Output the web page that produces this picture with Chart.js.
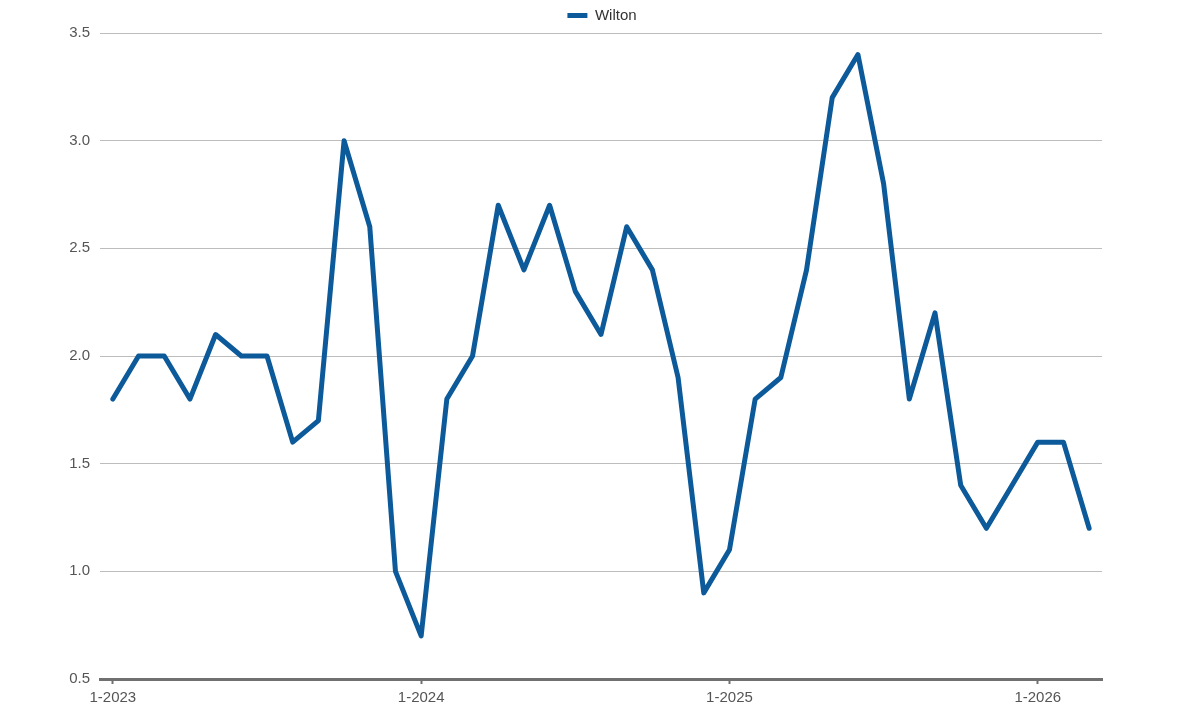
<!DOCTYPE html>
<html>
<head>
<meta charset="utf-8">
<script src="https://cdn.jsdelivr.net/npm/chart.js@4/dist/chart.umd.min.js"></script>
<style>
  html, body { margin: 0; padding: 0; background: #fff; }
  #wrap { width: 1204px; height: 712px; }
</style>
</head>
<body>
<div id="wrap"><canvas id="chart"></canvas></div>
<script>
// Months from 1-2023 to 3-2026
const months = [];
for (let y = 2023; y <= 2026; y++) {
    for (let m = 1; m <= 12; m++) {
        if (y === 2026 && m > 3) break;
        months.push(m + '-' + y);
    }
}

const seriesName = 'Wilton';
const wiltonValues = [
    1.8, 2.0, 2.0, 1.8, 2.1, 2.0, 2.0, 1.6, 1.7, 3.0, 2.6, 1.0,
    0.7, 1.8, 2.0, 2.7, 2.4, 2.7, 2.3, 2.1, 2.6, 2.4, 1.9, 0.9,
    1.1, 1.8, 1.9, 2.4, 3.2, 3.4, 2.8, 1.8, 2.2, 1.4, 1.2, 1.4,
    1.6, 1.6, 1.2
];
const yTicks = [0.5, 1.0, 1.5, 2.0, 2.5, 3.0, 3.5];

const lineColor = '#0d5a9b';
const fontFamily = 'Liberation Sans, Arial, sans-serif';

const ctx = document.getElementById('chart').getContext('2d');
new Chart(ctx, {
    type: 'line',
    data: {
        labels: months,
        datasets: [{
            label: seriesName,
            data: wiltonValues,
            borderColor: lineColor,
            backgroundColor: lineColor,
            borderWidth: 5,
            borderJoinStyle: 'round',
            borderCapStyle: 'round',
            pointRadius: 0,
            pointStyle: 'line',
            tension: 0,
            fill: false
        }]
    },
    options: {
        responsive: true,
        maintainAspectRatio: false,
        animation: false,
        layout: {
            padding: { left: 0, right: 0, top: 0, bottom: 0 }
        },
        plugins: {
            legend: {
                position: 'top',
                labels: {
                    usePointStyle: true,
                    pointStyleWidth: 20,
                    color: '#333',
                    font: { family: fontFamily, size: 15 },
                    padding: 8
                }
            },
            tooltip: { enabled: false }
        },
        scales: {
            x: {
                offset: true,
                grid: {
                    offset: false,
                    drawOnChartArea: false,
                    drawTicks: true,
                    tickLength: 5,
                    tickWidth: 2,
                    tickColor: '#707070'
                },
                border: { display: true, color: '#707070', width: 3 },
                ticks: {
                    autoSkip: false,
                    maxRotation: 0,
                    padding: 5,
                    color: '#555',
                    font: { family: fontFamily, size: 15 },
                    callback: function (value, index) {
                        return index % 12 === 0 ? months[index] : null;
                    }
                }
            },
            y: {
                min: 0.5,
                max: 3.5,
                afterBuildTicks: function (axis) {
                    axis.ticks = yTicks.map(v => ({ value: v }));
                },
                afterFit: function (axis) {
                    axis.width = 100;
                },
                grid: {
                    color: '#bdbdbd',
                    lineWidth: 1,
                    drawTicks: false
                },
                border: { display: false },
                ticks: {
                    padding: 10,
                    color: '#555',
                    font: { family: fontFamily, size: 15 },
                    callback: function (value) {
                        return value.toFixed(1);
                    }
                }
            },
            // empty right axis that only keeps the right margin
            yRight: {
                position: 'right',
                display: true,
                min: 0.5,
                max: 3.5,
                grid: { display: false },
                border: { display: false },
                ticks: { display: false },
                afterFit: function (axis) {
                    axis.width = 102;
                }
            }
        }
    }
});
</script>
</body>
</html>
